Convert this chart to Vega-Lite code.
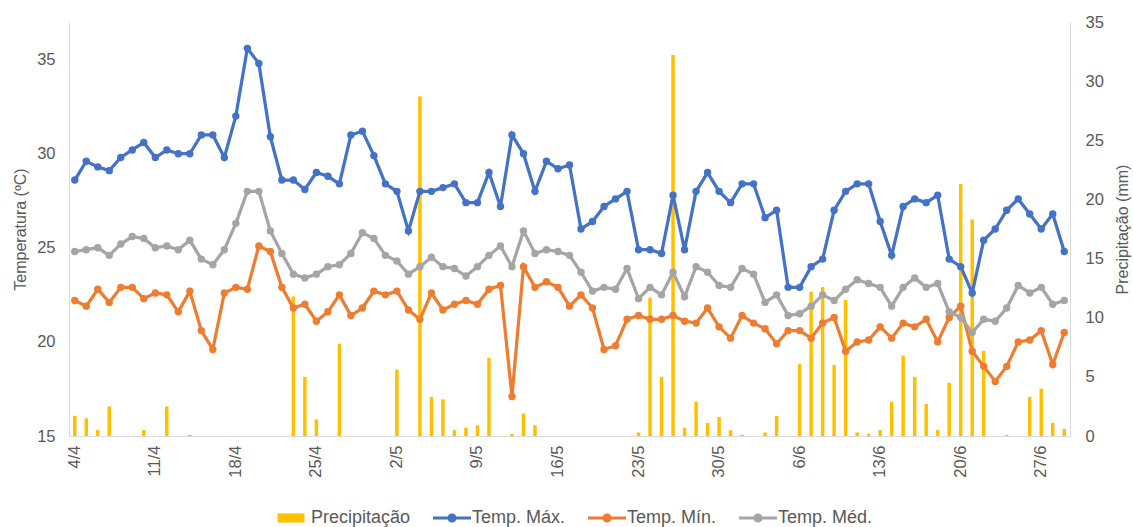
{
  "$schema": "https://vega.github.io/schema/vega-lite/v6.json",
  "width": 1001,
  "height": 414,
  "autosize": {"type": "none"},
  "padding": {"left": 69, "top": 22, "right": 63, "bottom": 91},
  "background": "white",
  "config": {
    "view": {"stroke": null},
    "font": "Liberation Sans",
    "axis": {
      "grid": false,
      "ticks": false,
      "domainColor": "#D9D9D9",
      "domainWidth": 1,
      "labelColor": "#595959",
      "labelFontSize": 16.5,
      "labelFont": "Liberation Sans",
      "labelOverlap": false,
      "labelBound": false,
      "titleColor": "#595959",
      "titleFontSize": 16,
      "titleFontWeight": "normal",
      "titleFont": "Liberation Sans"
    }
  },
  "data": {
    "values": [
      {"d": "4/4", "tmax": 28.6, "tmin": 22.2, "tmed": 24.8, "p": 1.7},
      {"d": "5/4", "tmax": 29.6, "tmin": 21.9, "tmed": 24.9, "p": 1.5},
      {"d": "6/4", "tmax": 29.3, "tmin": 22.8, "tmed": 25.0, "p": 0.5},
      {"d": "7/4", "tmax": 29.1, "tmin": 22.1, "tmed": 24.6, "p": 2.5},
      {"d": "8/4", "tmax": 29.8, "tmin": 22.9, "tmed": 25.2, "p": 0},
      {"d": "9/4", "tmax": 30.2, "tmin": 22.9, "tmed": 25.6, "p": 0},
      {"d": "10/4", "tmax": 30.6, "tmin": 22.3, "tmed": 25.5, "p": 0.5},
      {"d": "11/4", "tmax": 29.8, "tmin": 22.6, "tmed": 25.0, "p": 0},
      {"d": "12/4", "tmax": 30.2, "tmin": 22.5, "tmed": 25.1, "p": 2.5},
      {"d": "13/4", "tmax": 30.0, "tmin": 21.6, "tmed": 24.9, "p": 0},
      {"d": "14/4", "tmax": 30.0, "tmin": 22.7, "tmed": 25.4, "p": 0.1},
      {"d": "15/4", "tmax": 31.0, "tmin": 20.6, "tmed": 24.4, "p": 0},
      {"d": "16/4", "tmax": 31.0, "tmin": 19.6, "tmed": 24.1, "p": 0},
      {"d": "17/4", "tmax": 29.8, "tmin": 22.6, "tmed": 24.9, "p": 0},
      {"d": "18/4", "tmax": 32.0, "tmin": 22.9, "tmed": 26.3, "p": 0},
      {"d": "19/4", "tmax": 35.6, "tmin": 22.8, "tmed": 28.0, "p": 0},
      {"d": "20/4", "tmax": 34.8, "tmin": 25.1, "tmed": 28.0, "p": 0},
      {"d": "21/4", "tmax": 30.9, "tmin": 24.8, "tmed": 25.9, "p": 0},
      {"d": "22/4", "tmax": 28.6, "tmin": 22.9, "tmed": 24.7, "p": 0},
      {"d": "23/4", "tmax": 28.6, "tmin": 21.8, "tmed": 23.6, "p": 11.8},
      {"d": "24/4", "tmax": 28.1, "tmin": 22.0, "tmed": 23.4, "p": 5.0},
      {"d": "25/4", "tmax": 29.0, "tmin": 21.1, "tmed": 23.6, "p": 1.4},
      {"d": "26/4", "tmax": 28.8, "tmin": 21.6, "tmed": 24.0, "p": 0},
      {"d": "27/4", "tmax": 28.4, "tmin": 22.5, "tmed": 24.1, "p": 7.8},
      {"d": "28/4", "tmax": 31.0, "tmin": 21.4, "tmed": 24.7, "p": 0},
      {"d": "29/4", "tmax": 31.2, "tmin": 21.8, "tmed": 25.8, "p": 0},
      {"d": "30/4", "tmax": 29.9, "tmin": 22.7, "tmed": 25.5, "p": 0},
      {"d": "1/5", "tmax": 28.4, "tmin": 22.5, "tmed": 24.6, "p": 0},
      {"d": "2/5", "tmax": 28.0, "tmin": 22.7, "tmed": 24.3, "p": 5.6},
      {"d": "3/5", "tmax": 25.9, "tmin": 21.7, "tmed": 23.6, "p": 0},
      {"d": "4/5", "tmax": 28.0, "tmin": 21.2, "tmed": 24.0, "p": 28.7},
      {"d": "5/5", "tmax": 28.0, "tmin": 22.6, "tmed": 24.5, "p": 3.3},
      {"d": "6/5", "tmax": 28.2, "tmin": 21.7, "tmed": 24.0, "p": 3.1},
      {"d": "7/5", "tmax": 28.4, "tmin": 22.0, "tmed": 23.9, "p": 0.5},
      {"d": "8/5", "tmax": 27.4, "tmin": 22.2, "tmed": 23.5, "p": 0.7},
      {"d": "9/5", "tmax": 27.4, "tmin": 22.0, "tmed": 24.0, "p": 0.9},
      {"d": "10/5", "tmax": 29.0, "tmin": 22.8, "tmed": 24.6, "p": 6.6},
      {"d": "11/5", "tmax": 27.2, "tmin": 23.0, "tmed": 25.1, "p": 0},
      {"d": "12/5", "tmax": 31.0, "tmin": 17.1, "tmed": 24.0, "p": 0.2},
      {"d": "13/5", "tmax": 30.0, "tmin": 24.0, "tmed": 25.9, "p": 1.9},
      {"d": "14/5", "tmax": 28.0, "tmin": 22.9, "tmed": 24.7, "p": 0.9},
      {"d": "15/5", "tmax": 29.6, "tmin": 23.2, "tmed": 24.9, "p": 0},
      {"d": "16/5", "tmax": 29.2, "tmin": 22.9, "tmed": 24.8, "p": 0},
      {"d": "17/5", "tmax": 29.4, "tmin": 21.9, "tmed": 24.6, "p": 0},
      {"d": "18/5", "tmax": 26.0, "tmin": 22.5, "tmed": 23.7, "p": 0},
      {"d": "19/5", "tmax": 26.4, "tmin": 21.8, "tmed": 22.7, "p": 0},
      {"d": "20/5", "tmax": 27.2, "tmin": 19.6, "tmed": 22.9, "p": 0},
      {"d": "21/5", "tmax": 27.6, "tmin": 19.8, "tmed": 22.8, "p": 0},
      {"d": "22/5", "tmax": 28.0, "tmin": 21.2, "tmed": 23.9, "p": 0},
      {"d": "23/5", "tmax": 24.9, "tmin": 21.4, "tmed": 22.3, "p": 0.3},
      {"d": "24/5", "tmax": 24.9, "tmin": 21.2, "tmed": 22.9, "p": 11.7},
      {"d": "25/5", "tmax": 24.7, "tmin": 21.2, "tmed": 22.5, "p": 5.0},
      {"d": "26/5", "tmax": 27.8, "tmin": 21.4, "tmed": 23.7, "p": 32.2},
      {"d": "27/5", "tmax": 24.9, "tmin": 21.1, "tmed": 22.4, "p": 0.7},
      {"d": "28/5", "tmax": 28.0, "tmin": 21.0, "tmed": 24.0, "p": 2.9},
      {"d": "29/5", "tmax": 29.0, "tmin": 21.8, "tmed": 23.7, "p": 1.1},
      {"d": "30/5", "tmax": 28.0, "tmin": 20.8, "tmed": 23.0, "p": 1.6},
      {"d": "31/5", "tmax": 27.4, "tmin": 20.2, "tmed": 22.9, "p": 0.5},
      {"d": "1/6", "tmax": 28.4, "tmin": 21.4, "tmed": 23.9, "p": 0.1},
      {"d": "2/6", "tmax": 28.4, "tmin": 21.0, "tmed": 23.6, "p": 0},
      {"d": "3/6", "tmax": 26.6, "tmin": 20.7, "tmed": 22.1, "p": 0.3},
      {"d": "4/6", "tmax": 27.0, "tmin": 19.9, "tmed": 22.5, "p": 1.7},
      {"d": "5/6", "tmax": 22.9, "tmin": 20.6, "tmed": 21.4, "p": 0},
      {"d": "6/6", "tmax": 22.9, "tmin": 20.6, "tmed": 21.5, "p": 6.1},
      {"d": "7/6", "tmax": 24.0, "tmin": 20.2, "tmed": 21.9, "p": 12.2},
      {"d": "8/6", "tmax": 24.4, "tmin": 21.0, "tmed": 22.5, "p": 12.6},
      {"d": "9/6", "tmax": 27.0, "tmin": 21.3, "tmed": 22.2, "p": 6.0},
      {"d": "10/6", "tmax": 28.0, "tmin": 19.5, "tmed": 22.8, "p": 11.5},
      {"d": "11/6", "tmax": 28.4, "tmin": 20.0, "tmed": 23.3, "p": 0.3},
      {"d": "12/6", "tmax": 28.4, "tmin": 20.1, "tmed": 23.1, "p": 0.2},
      {"d": "13/6", "tmax": 26.4, "tmin": 20.8, "tmed": 22.9, "p": 0.5},
      {"d": "14/6", "tmax": 24.6, "tmin": 20.2, "tmed": 21.9, "p": 2.9},
      {"d": "15/6", "tmax": 27.2, "tmin": 21.0, "tmed": 22.9, "p": 6.8},
      {"d": "16/6", "tmax": 27.6, "tmin": 20.8, "tmed": 23.4, "p": 5.0},
      {"d": "17/6", "tmax": 27.4, "tmin": 21.2, "tmed": 22.9, "p": 2.7},
      {"d": "18/6", "tmax": 27.8, "tmin": 20.0, "tmed": 23.1, "p": 0.5},
      {"d": "19/6", "tmax": 24.4, "tmin": 21.3, "tmed": 21.6, "p": 4.5},
      {"d": "20/6", "tmax": 24.0, "tmin": 21.9, "tmed": 21.3, "p": 21.3},
      {"d": "21/6", "tmax": 22.6, "tmin": 19.5, "tmed": 20.5, "p": 18.3},
      {"d": "22/6", "tmax": 25.4, "tmin": 18.7, "tmed": 21.2, "p": 7.2},
      {"d": "23/6", "tmax": 26.0, "tmin": 17.9, "tmed": 21.1, "p": 0},
      {"d": "24/6", "tmax": 27.0, "tmin": 18.7, "tmed": 21.8, "p": 0.1},
      {"d": "25/6", "tmax": 27.6, "tmin": 20.0, "tmed": 23.0, "p": 0},
      {"d": "26/6", "tmax": 26.8, "tmin": 20.1, "tmed": 22.6, "p": 3.3},
      {"d": "27/6", "tmax": 26.0, "tmin": 20.6, "tmed": 22.9, "p": 4.0},
      {"d": "28/6", "tmax": 26.8, "tmin": 18.8, "tmed": 22.0, "p": 1.1},
      {"d": "29/6", "tmax": 24.8, "tmin": 20.5, "tmed": 22.2, "p": 0.6}
    ]
  },
  "encoding": {
    "x": {
      "field": "d",
      "type": "ordinal",
      "sort": null,
      "scale": {"type": "band", "paddingInner": 0, "paddingOuter": 0},
      "axis": {
        "title": null,
        "labelExpr": "indexof(['4/4', '11/4', '18/4', '25/4', '2/5', '9/5', '16/5', '23/5', '30/5', '6/6', '13/6', '20/6', '27/6'], datum.value) >= 0 ? datum.value : ''",
        "labelAngle": -90,
        "labelAlign": "right",
        "labelBaseline": "middle",
        "labelPadding": 9,
        "labelOverlap": false,
        "labelBound": false,
        "labelFlush": false
      }
    }
  },
  "layer": [
    {
      "mark": {"type": "bar", "width": 3.5},
      "encoding": {
        "y": {
          "field": "p",
          "type": "quantitative",
          "scale": {"domain": [0, 35], "nice": false},
          "axis": {
            "orient": "right",
            "title": "Precipitação (mm)",
            "values": [0, 5, 10, 15, 20, 25, 30, 35],
            "labelPadding": 15,
            "titleAngle": 270,
            "titlePadding": 27
          }
        },
        "color": {
          "datum": "Precipitação",
          "scale": {
            "domain": ["Precipitação", "Temp. Máx.", "Temp. Mín.", "Temp. Méd."],
            "range": ["#FFC000", "#4472C4", "#ED7D31", "#A5A5A5"]
          },
          "legend": {
            "title": null,
            "orient": "none",
            "legendX": 203,
            "legendY": 477,
            "direction": "horizontal",
            "symbolSize": 1444,
            "labelFontSize": 18,
            "labelColor": "#595959",
            "labelFont": "Liberation Sans",
            "labelOffset": 1,
            "columnPadding": 22,
            "encode": {
              "symbols": {
                "update": {
                  "shape": {"signal": "datum.value === 'Precipitação' ? 'M-0.71,-0.24H0.71V0.24H-0.71Z' : 'M-1,-0.085H1V0.085H-1Z M-0.24,0A0.24,0.24,0,1,1,0.24,0A0.24,0.24,0,1,1,-0.24,0Z'"},
                  "fill": {"scale": "color", "field": "value"},
                  "stroke": {"value": "transparent"},
                  "strokeWidth": {"value": 0},
                  "opacity": {"value": 1}
                }
              }
            }
          }
        }
      }
    },
    {
      "layer": [
        {
          "mark": {"type": "line", "strokeWidth": 3.25, "point": {"filled": true, "size": 55, "opacity": 1}},
          "encoding": {
            "y": {
              "field": "tmax",
              "type": "quantitative",
              "scale": {"domain": [15, 37], "nice": false},
              "axis": {"title": "Temperatura (ºC)", "values": [15, 20, 25, 30, 35], "labelPadding": 14, "titlePadding": 8}
            },
            "color": {"datum": "Temp. Máx."}
          }
        },
        {
          "mark": {"type": "line", "strokeWidth": 3.25, "point": {"filled": true, "size": 55, "opacity": 1}},
          "encoding": {
            "y": {
              "field": "tmin",
              "type": "quantitative",
              "scale": {"domain": [15, 37], "nice": false},
              "axis": {"title": "Temperatura (ºC)", "values": [15, 20, 25, 30, 35], "labelPadding": 14, "titlePadding": 8}
            },
            "color": {"datum": "Temp. Mín."}
          }
        },
        {
          "mark": {"type": "line", "strokeWidth": 3.25, "point": {"filled": true, "size": 55, "opacity": 1}},
          "encoding": {
            "y": {
              "field": "tmed",
              "type": "quantitative",
              "scale": {"domain": [15, 37], "nice": false},
              "axis": {"title": "Temperatura (ºC)", "values": [15, 20, 25, 30, 35], "labelPadding": 14, "titlePadding": 8}
            },
            "color": {"datum": "Temp. Méd."}
          }
        }
      ]
    }
  ],
  "resolve": {"scale": {"y": "independent"}}
}
